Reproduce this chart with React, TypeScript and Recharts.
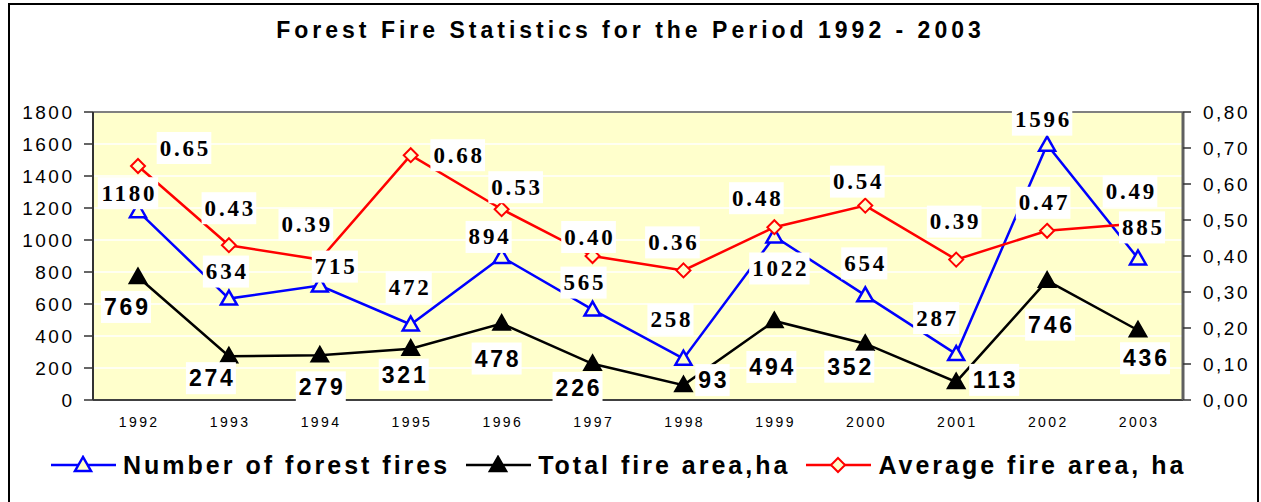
import React from "react";
import {
  CartesianGrid,
  LabelList,
  Line,
  LineChart,
  ReferenceLine,
  XAxis,
  YAxis,
} from "recharts";

const YEARS = ["1992", "1993", "1994", "1995", "1996", "1997", "1998", "1999", "2000", "2001", "2002", "2003"];
const FIRE_COUNT = [1180, 634, 715, 472, 894, 565, 258, 1022, 654, 287, 1596, 885];
const FIRE_AREA = [769, 274, 279, 321, 478, 226, 93, 494, 352, 113, 746, 436];
const AVG_AREA = [0.65, 0.43, 0.39, 0.68, 0.53, 0.4, 0.36, 0.48, 0.54, 0.39, 0.47, 0.49];

const LEFT_TICKS = [0, 200, 400, 600, 800, 1000, 1200, 1400, 1600, 1800];
const RIGHT_TICKS = [0, 0.1, 0.2, 0.3, 0.4, 0.5, 0.6, 0.7, 0.8];

// where each data label sits relative to its point (Excel placed them by hand)
const COUNT_LABEL_SHIFT = [[-10, -18], [-3, -27], [15, -19], [-2, -37], [-13, -20], [-9, -27], [-13, -39], [5, 32], [-1, -32], [-20, -36], [-5, -25], [4, -31]];
const AREA_LABEL_SHIFT = [[-12, 30], [-18, 22], [1, 32], [-7, 26], [-5, 35], [-15, 24], [29, -5], [-3, 46], [-16, 23], [38, -2], [3, 44], [7, 28]];
const AVG_LABEL_SHIFT = [[46, -18], [0, -37], [-14, -35], [47, 0], [14, -22], [-4, -19], [-11, -28], [-18, -29], [-8, -24], [-2, -38], [-4, -28], [-8, -32]];

const SANS = '"Liberation Sans", Arial, sans-serif';
const SERIF = '"Liberation Serif", "Times New Roman", serif';
const PLOT_BG = "#FFFFCC";

const chartData = YEARS.map((year, i) => ({
  year,
  count: FIRE_COUNT[i],
  area: FIRE_AREA[i],
  avg: AVG_AREA[i],
}));

const textWidth = (s: string, serif: boolean, size: number, spacing: number) => {
  let em = 0;
  for (const ch of s) {
    if (ch === ".") em += serif ? 0.25 : 0.278;
    else em += serif ? 0.5 : 0.556;
  }
  return em * size + spacing * (s.length - 1);
};

const makeLabel =
  (shift: number[][], serif: boolean, fmt: (v: number) => string) =>
  (props: any) => {
    const { x, y, value, index } = props;
    const [dx, dy] = shift[index] || [0, 0];
    const text = fmt(Number(value));
    const size = 23;
    const spacing = 2.8;
    const w = textWidth(text, serif, size, spacing) + 6;
    const cx = x + dx;
    const cy = y + dy;
    return (
      <g key={`lbl-${index}`}>
        <rect x={cx - w / 2} y={cy - 16} width={w} height={32} fill="#fff" />
        <text
          x={cx + spacing / 2}
          y={cy}
          textAnchor="middle"
          dominantBaseline="central"
          fontFamily={serif ? SERIF : SANS}
          fontWeight="bold"
          fontSize={size}
          fill="#000"
          style={{ letterSpacing: spacing }}
        >
          {text}
        </text>
      </g>
    );
  };

const triangleDot = (stroke: string, fill: string) => (props: any) => {
  const { cx, cy, index } = props;
  if (cx == null || cy == null) return <g key={`t-${index}`} />;
  return (
    <polygon
      key={`t-${index}`}
      points={`${cx},${cy - 8} ${cx - 8},${cy + 6} ${cx + 8},${cy + 6}`}
      fill={fill}
      stroke={stroke}
      strokeWidth={2.5}
    />
  );
};

const diamondDot = (props: any) => {
  const { cx, cy, index } = props;
  if (cx == null || cy == null) return <g key={`d-${index}`} />;
  return (
    <polygon
      key={`d-${index}`}
      points={`${cx},${cy - 7} ${cx + 7},${cy} ${cx},${cy + 7} ${cx - 7},${cy}`}
      fill={PLOT_BG}
      stroke="#FF0000"
      strokeWidth={2}
    />
  );
};

const XTick = (props: any) => {
  const { x, y, payload } = props;
  return (
    <text
      x={x + 1.2}
      y={y}
      dy={8}
      textAnchor="middle"
      dominantBaseline="central"
      fontFamily={SANS}
      fontSize={14}
      fill="#000"
      style={{ letterSpacing: 2.4 }}
    >
      {payload.value}
    </text>
  );
};

const LeftTick = (props: any) => {
  const { x, y, payload } = props;
  return (
    <text
      x={x + 2.5}
      y={y}
      textAnchor="end"
      dominantBaseline="central"
      fontFamily={SANS}
      fontSize={19}
      fill="#000"
      style={{ letterSpacing: 2.5 }}
    >
      {payload.value}
    </text>
  );
};

const RightTick = (props: any) => {
  const { x, y, payload } = props;
  return (
    <text
      x={x}
      y={y}
      textAnchor="start"
      dominantBaseline="central"
      fontFamily={SANS}
      fontSize={19}
      fill="#000"
      style={{ letterSpacing: 2.5 }}
    >
      {Number(payload.value).toFixed(2).replace(".", ",")}
    </text>
  );
};

const LegendIcon = ({ kind }: { kind: "count" | "area" | "avg" }) => {
  const color = kind === "count" ? "#0000FF" : kind === "area" ? "#000" : "#FF0000";
  return (
    <svg width={65} height={20} style={{ display: "block" }}>
      <line x1={0} y1={10} x2={65} y2={10} stroke={color} strokeWidth={2.5} />
      {kind === "avg" ? (
        <polygon points="32,3 39,10 32,17 25,10" fill={PLOT_BG} stroke={color} strokeWidth={2} />
      ) : (
        <polygon
          points="32,2 24,16 40,16"
          fill={kind === "area" ? "#000" : PLOT_BG}
          stroke={color}
          strokeWidth={2.5}
        />
      )}
    </svg>
  );
};

const LEGEND_ITEMS: { kind: "count" | "area" | "avg"; name: string }[] = [
  { kind: "count", name: "Number of forest fires" },
  { kind: "area", name: "Total fire area,ha" },
  { kind: "avg", name: "Average fire area, ha" },
];

export default function App() {
  return (
    <div
      style={{
        position: "absolute",
        left: 0,
        top: 0,
        width: 1261,
        height: 502,
        background: "#fff",
        overflow: "hidden",
      }}
    >
      <div
        style={{
          position: "absolute",
          left: 8,
          top: 3,
          width: 1247,
          height: 520,
          border: "2px solid #000",
        }}
      />
      <div
        style={{
          position: "absolute",
          left: 0,
          top: 14,
          width: 1261,
          textAlign: "center",
          fontFamily: SANS,
          fontWeight: "bold",
          fontSize: 23,
          letterSpacing: 4,
          lineHeight: "32px",
        }}
      >
        Forest Fire Statistics for the Period 1992 - 2003
      </div>

      <div style={{ position: "absolute", left: 0, top: 0 }}>
        <LineChart
          width={1261}
          height={502}
          data={chartData}
          margin={{ top: 112, right: 8, bottom: 72, left: 33 }}
        >
          <CartesianGrid
            yAxisId="left"
            vertical={false}
            fill={PLOT_BG}
            fillOpacity={1}
            stroke="#fff"
            strokeWidth={1.5}
          />
          <XAxis
            dataKey="year"
            height={30}
            padding={{ left: 45, right: 45 }}
            axisLine={{ stroke: "#404040", strokeWidth: 2 }}
            tickLine={false}
            tickSize={8}
            tickMargin={6}
            tick={<XTick />}
            interval={0}
          />
          <YAxis
            yAxisId="left"
            width={60}
            domain={[0, 1800]}
            ticks={LEFT_TICKS}
            interval={0}
            axisLine={{ stroke: "#333", strokeWidth: 2 }}
            tickLine={{ stroke: "#333", strokeWidth: 1.5 }}
            tickSize={9}
            tickMargin={12}
            tick={<LeftTick />}
          />
          <YAxis
            yAxisId="right"
            orientation="right"
            width={70}
            domain={[0, 0.8]}
            ticks={RIGHT_TICKS}
            interval={0}
            axisLine={{ stroke: "#606060", strokeWidth: 3 }}
            tickLine={{ stroke: "#333", strokeWidth: 1.5 }}
            tickSize={8}
            tickMargin={12}
            tick={<RightTick />}
          />
          <ReferenceLine yAxisId="left" y={1800} stroke="#808080" strokeWidth={2} />

          <Line
            yAxisId="left"
            dataKey="count"
            stroke="#0000FF"
            strokeWidth={2.5}
            dot={triangleDot("#0000FF", PLOT_BG)}
            activeDot={false}
            isAnimationActive={false}
          />
          <Line
            yAxisId="left"
            dataKey="area"
            stroke="#000"
            strokeWidth={2.5}
            dot={triangleDot("#000", "#000")}
            activeDot={false}
            isAnimationActive={false}
          />
          <Line
            yAxisId="right"
            dataKey="avg"
            stroke="#FF0000"
            strokeWidth={2.5}
            dot={diamondDot}
            activeDot={false}
            isAnimationActive={false}
          />

          {/* label-only series so every label box sits above every line */}
          <Line
            yAxisId="left"
            dataKey="count"
            stroke="none"
            dot={false}
            activeDot={false}
            isAnimationActive={false}
          >
            <LabelList dataKey="count" content={makeLabel(COUNT_LABEL_SHIFT, true, (v) => String(v))} />
          </Line>
          <Line
            yAxisId="left"
            dataKey="area"
            stroke="none"
            dot={false}
            activeDot={false}
            isAnimationActive={false}
          >
            <LabelList dataKey="area" content={makeLabel(AREA_LABEL_SHIFT, false, (v) => String(v))} />
          </Line>
          <Line
            yAxisId="right"
            dataKey="avg"
            stroke="none"
            dot={false}
            activeDot={false}
            isAnimationActive={false}
          >
            <LabelList dataKey="avg" content={makeLabel(AVG_LABEL_SHIFT, true, (v) => v.toFixed(2))} />
          </Line>
        </LineChart>
      </div>

      <div
        style={{
          position: "absolute",
          left: 51,
          top: 450,
          height: 30,
          display: "flex",
          alignItems: "center",
        }}
      >
        {LEGEND_ITEMS.map((item) => (
          <div key={item.kind} style={{ display: "flex", alignItems: "center", marginRight: 16 }}>
            <LegendIcon kind={item.kind} />
            <span
              style={{
                marginLeft: 7,
                fontFamily: SANS,
                fontWeight: "bold",
                fontSize: 25,
                letterSpacing: 3,
                lineHeight: "30px",
                whiteSpace: "nowrap",
              }}
            >
              {item.name}
            </span>
          </div>
        ))}
      </div>
    </div>
  );
}
